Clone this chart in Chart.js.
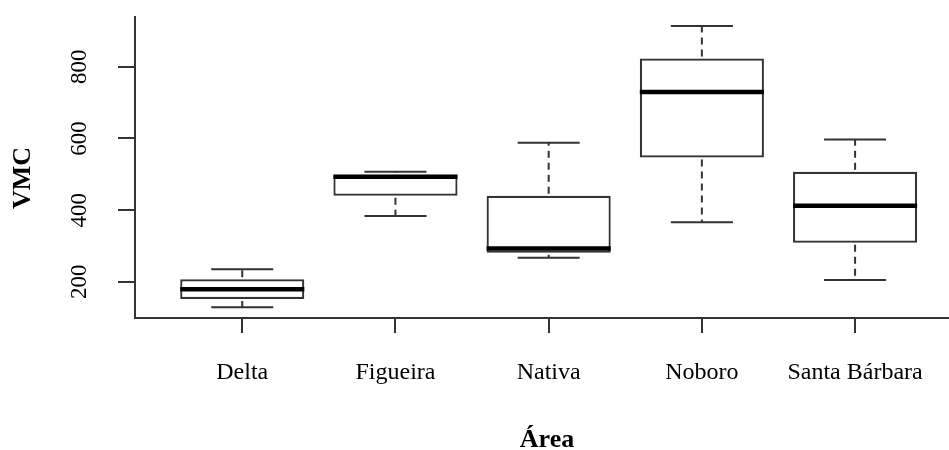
<!DOCTYPE html>
<html>
<head>
<meta charset="utf-8">
<script src="https://cdn.jsdelivr.net/npm/chart.js@4/dist/chart.umd.min.js"></script>
<style>
  html, body { margin: 0; padding: 0; background: #fff; }
  #wrap { width: 949px; height: 450px; }
</style>
</head>
<body>
<div id="wrap"><canvas id="box-chart" width="949" height="450"></canvas></div>
<script>
const categories = ["Delta", "Figueira", "Nativa", "Noboro", "Santa Bárbara"];
const mins = [129, 384, 267, 366, 205];
const q1s = [152, 440, 281, 547, 309];
const medians = [179, 493, 293, 730, 412];
const q3s = [207, 499, 440, 823, 507];
const maxs = [235, 507, 588, 914, 597];
const yTicks = [200, 400, 600, 800];

(function () {
  const SERIF = "'Liberation Serif', 'Times New Roman', serif";
  const INK = "#333";

  // whiskers, staples, medians and the rotated R-style y labels
  const boxExtras = {
    id: "boxExtras",
    afterDatasetsDraw(chart) {
      const { ctx } = chart;
      const x = chart.scales.x;
      const y = chart.scales.y;
      const bars = chart.getDatasetMeta(0).data;
      ctx.save();
      categories.forEach((c, i) => {
        const cx = x.getPixelForValue(i + 1);
        const half = bars[i].width / 2;
        const cap = half / 2;
        ctx.strokeStyle = INK;
        ctx.lineWidth = 2;
        ctx.setLineDash([7, 5]);
        ctx.beginPath();
        ctx.moveTo(cx, y.getPixelForValue(q3s[i]) - 2);
        ctx.lineTo(cx, y.getPixelForValue(maxs[i]));
        ctx.moveTo(cx, y.getPixelForValue(q1s[i]) + 2);
        ctx.lineTo(cx, y.getPixelForValue(mins[i]));
        ctx.stroke();
        ctx.setLineDash([]);
        ctx.beginPath();
        ctx.moveTo(cx - cap, y.getPixelForValue(maxs[i]));
        ctx.lineTo(cx + cap, y.getPixelForValue(maxs[i]));
        ctx.moveTo(cx - cap, y.getPixelForValue(mins[i]));
        ctx.lineTo(cx + cap, y.getPixelForValue(mins[i]));
        ctx.stroke();
        ctx.strokeStyle = "#000";
        ctx.lineWidth = 4.5;
        ctx.beginPath();
        ctx.moveTo(cx - half, y.getPixelForValue(medians[i]));
        ctx.lineTo(cx + half, y.getPixelForValue(medians[i]));
        ctx.stroke();
      });

      ctx.fillStyle = "#000";
      ctx.font = "23px " + SERIF;
      ctx.textAlign = "center";
      ctx.textBaseline = "alphabetic";
      yTicks.forEach(v => {
        ctx.save();
        ctx.translate(86, y.getPixelForValue(v));
        ctx.rotate(-Math.PI / 2);
        ctx.fillText(String(v), 0, 0);
        ctx.restore();
      });

      ctx.font = "bold 26px " + SERIF;
      ctx.textBaseline = "middle";
      ctx.save();
      ctx.translate(23, 178);
      ctx.rotate(-Math.PI / 2);
      ctx.fillText("VMC", 0, 0);
      ctx.restore();

      ctx.textBaseline = "alphabetic";
      ctx.fillText("Área", 547, 447);
      ctx.restore();
    },
  };

  new Chart(document.getElementById("box-chart"), {
    type: "bar",
    data: {
      datasets: [{
        data: categories.map((c, i) => ({ x: i + 1, y: [q1s[i], q3s[i]] })),
        backgroundColor: "#fff",
        borderColor: INK,
        borderWidth: 2.2,
        borderSkipped: false,
        barPercentage: 0.81,
        categoryPercentage: 1,
      }],
    },
    options: {
      responsive: false,
      animation: false,
      events: [],
      layout: { padding: { top: 17, left: 0, right: 0, bottom: 0 } },
      plugins: { legend: { display: false }, tooltip: { enabled: false } },
      scales: {
        x: {
          type: "linear",
          offset: false,
          min: 0.3,
          max: 5.613,
          afterBuildTicks: s => { s.ticks = categories.map((c, i) => ({ value: i + 1 })); },
          afterFit: s => { s.height = 132; },
          grid: { offset: false, drawOnChartArea: false, tickLength: 15, color: INK, lineWidth: 2 },
          border: { color: INK, width: 2 },
          ticks: {
            autoSkip: false,
            maxRotation: 0,
            padding: 25,
            color: "#000",
            font: { family: SERIF, size: 24 },
            callback: v => categories[v - 1],
          },
        },
        y: {
          min: 99,
          max: 939,
          afterBuildTicks: s => { s.ticks = yTicks.map(v => ({ value: v })); },
          afterFit: s => { s.width = 135; },
          grid: { drawOnChartArea: false, tickLength: 17, color: INK, lineWidth: 2 },
          border: { color: INK, width: 2 },
          ticks: { display: false },
        },
      },
    },
    plugins: [boxExtras],
  });
})();
</script>
</body>
</html>
